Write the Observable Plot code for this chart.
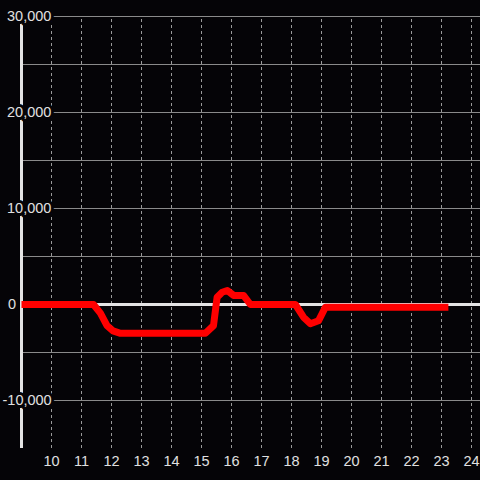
<!DOCTYPE html>
<html>
<head>
<meta charset="utf-8">
<script src="https://cdn.jsdelivr.net/npm/d3@7"></script>
<script src="https://cdn.jsdelivr.net/npm/@observablehq/plot@0.6"></script>
<style>
  html, body { margin: 0; padding: 0; background: #050407; }
  #chart svg { display: block; }
</style>
</head>
<body>
<div id="chart"></div>
<script>
const hours  = [9, 11.4, 11.63, 11.85, 12.05, 12.3, 15.13, 15.4, 15.52, 15.69, 15.86, 16.07, 16.4, 16.63, 18.13, 18.4, 18.63, 18.9, 19.13, 23.23];
const values = [0, 0, -900, -2200, -2750, -3000, -3000, -2200, 750, 1280, 1460, 950, 950, 0, 0, -1320, -2000, -1700, -280, -280];
const xTicks = [10, 11, 12, 13, 14, 15, 16, 17, 18, 19, 20, 21, 22, 23, 24];
const yLabelTicks = [30000, 20000, 10000, 0, -10000];
const yGridTicks = [30000, 25000, 20000, 15000, 10000, 5000, -5000, -10000];

const data = hours.map((h, i) => ({h, v: values[i]}));
const fmt = v => v.toLocaleString("en-US");
const font = "Liberation Sans, Arial, sans-serif";
const labelStyle = {
  x: 9, y: d => d, text: d => fmt(d), textAnchor: "start",
  fill: "#e0e0e0", stroke: "#050407", strokeWidth: 6, paintOrder: "stroke",
  fontSize: 14.5, fontFamily: font
};

const chart = Plot.plot({
  width: 480,
  height: 480,
  marginLeft: 21,
  marginRight: 0,
  marginTop: 16,
  marginBottom: 32,
  style: {background: "#050407", fontFamily: font, fontSize: "14.5px"},
  x: {domain: [9, 24.3], axis: null},
  y: {domain: [-15000, 30000], axis: null},
  marks: [
    Plot.ruleY(yGridTicks, {stroke: "#8a8a8a", strokeWidth: 1}),
    Plot.ruleX(xTicks, {y1: -15000, y2: 30000, stroke: "#9a9a9a", strokeWidth: 1, strokeDasharray: "3,3"}),
    Plot.ruleY([0], {stroke: "#e4e4e4", strokeWidth: 3}),
    Plot.ruleX([9], {y1: -15000, y2: 30000, stroke: "#e4e4e4", strokeWidth: 3}),
    Plot.text(yLabelTicks.filter(d => d > 0), {...labelStyle, dx: -14.5}),
    Plot.text(yLabelTicks.filter(d => d === 0), {...labelStyle, dx: -13.5}),
    Plot.text(yLabelTicks.filter(d => d < 0), {...labelStyle, dx: -19}),
    Plot.line(data, {x: "h", y: "v", stroke: "#ff0000", strokeWidth: 7, strokeLinejoin: "round", strokeLinecap: "butt"}),
    Plot.text(xTicks, {
      x: d => d, y: -15000, text: d => String(d), dy: 13,
      fill: "#e0e0e0", fontSize: 14.5, fontFamily: font
    })
  ]
});
document.getElementById("chart").appendChild(chart);
</script>
</body>
</html>
